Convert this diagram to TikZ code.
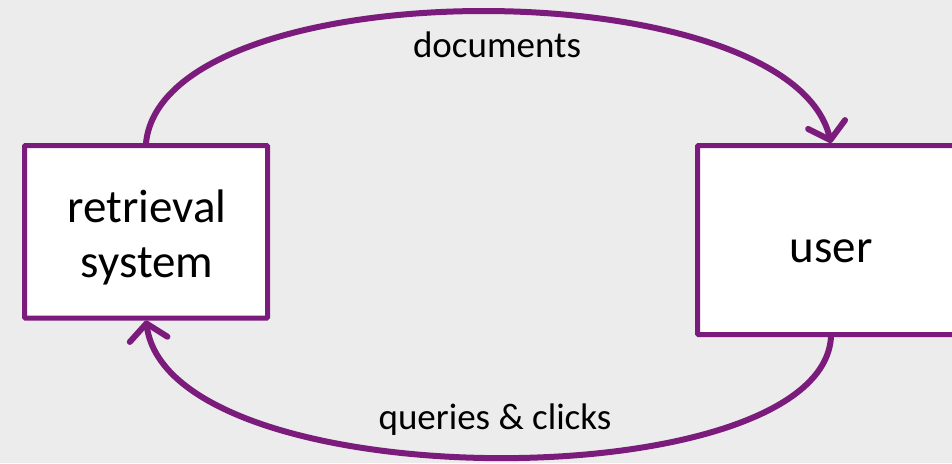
\documentclass[tikz,border=0pt]{standalone}
\usepackage{fontspec}
\setmainfont{Carlito}
\usetikzlibrary{arrows.meta}
\definecolor{bgcol}{HTML}{EBECEB}
\definecolor{plum}{HTML}{7B1C7C}
\tikzset{
  box/.style={draw=plum, fill=white, line width=5pt, rounded corners=1pt,
    inner sep=0pt},
  boxtext/.style={anchor=base, inner sep=0pt, font=\fontsize{47}{55}\selectfont},
  edgetext/.style={anchor=base, inner sep=0pt, font=\fontsize{37}{44}\selectfont},
  flow/.style={draw=plum, line width=6pt, line cap=round,
    -{Straight Barb[length=16pt,width=38pt,round]}},
}
\begin{document}
\begin{tikzpicture}[x=1pt,y=-1pt]
  \path[use as bounding box, fill=bgcol] (0,0) rectangle (952,463);
  \clip (0,0) rectangle (952,463);

  % the two boxes
  \node[box, minimum width=243pt, minimum height=172.5pt] (rs) at (146,231.75) {};
  \node[box, minimum width=267pt, minimum height=189pt] (user) at (831,240) {};

  % box labels
  \node[boxtext] (rs1) at (147,222) {retrieval};
  \node[boxtext] (rs2) at (147,277) {system};
  \node[boxtext] (usertext) at (831,262) {user};

  % flows between the boxes
  \draw[flow] (rs.north) .. controls +(18,-175) and +(-42,-175) .. (user.north);
  \draw[flow] (user.south) .. controls +(-10,163) and +(25,180) .. (rs.south);

  % flow labels
  \node[edgetext] (docs) at (497,57) {documents};
  \node[edgetext] (qc) at (495,429) {queries \& clicks};
\end{tikzpicture}
\end{document}
